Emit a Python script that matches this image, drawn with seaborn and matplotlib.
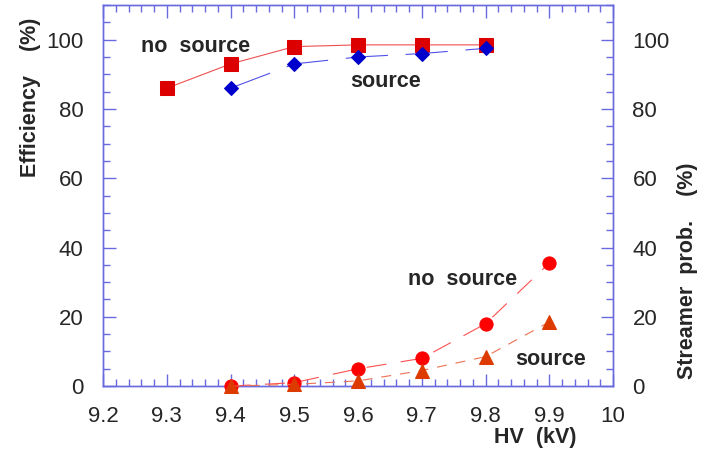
import matplotlib
matplotlib.use("Agg")
import matplotlib.pyplot as plt
from matplotlib.ticker import MultipleLocator
import seaborn as sns
import pandas as pd

# High-voltage scan points (kV)
hv_eff_nosrc = [9.3, 9.4, 9.5, 9.6, 9.7, 9.8]
eff_nosrc = [86.0, 93.0, 98.0, 98.5, 98.5, 98.5]

hv_eff_src = [9.4, 9.5, 9.6, 9.7, 9.8]
eff_src = [86.0, 93.0, 95.0, 96.0, 97.5]

hv_str = [9.4, 9.5, 9.6, 9.7, 9.8, 9.9]
str_nosrc = [0.0, 1.0, 5.0, 8.0, 18.0, 35.5]
str_src = [0.0, 0.5, 1.5, 4.5, 8.5, 18.5]

x_ticks = [9.2, 9.3, 9.4, 9.5, 9.6, 9.7, 9.8, 9.9, 10.0]
x_tick_labels = ["9.2", "9.3", "9.4", "9.5", "9.6", "9.7", "9.8", "9.9", "10"]
y_ticks = [0, 20, 40, 60, 80, 100]

sns.set_theme(style="white")
plt.rcParams["font.family"] = ["Liberation Sans", "DejaVu Sans"]

spine_col = "#6a6ae0"

fig = plt.figure(figsize=(7.01, 4.58), dpi=100)
ax = fig.add_axes([0.147, 0.157, 0.7275, 0.832])
ax2 = ax.twinx()

df_a = pd.DataFrame({"hv": hv_eff_nosrc, "v": eff_nosrc})
df_b = pd.DataFrame({"hv": hv_eff_src, "v": eff_src})
df_c = pd.DataFrame({"hv": hv_str, "v": str_nosrc})
df_d = pd.DataFrame({"hv": hv_str, "v": str_src})

# Efficiency curves (left axis)
sns.lineplot(data=df_a, x="hv", y="v", ax=ax, color="#ee5050", lw=0.8,
             marker="s", markersize=10, markerfacecolor="#dd0000",
             markeredgecolor="#dd0000", clip_on=False, zorder=3)
sns.lineplot(data=df_b, x="hv", y="v", ax=ax, color="#5050e8", lw=0.8,
             linestyle=(0, (38, 16)),
             marker="D", markersize=7.5, markerfacecolor="#0000cc",
             markeredgecolor="#0000cc", clip_on=False, zorder=3)

# Streamer probability curves (right axis)
sns.lineplot(data=df_c, x="hv", y="v", ax=ax2, color="#ff5050", lw=0.8,
             linestyle=(0, (18, 13)),
             marker="o", markersize=9.5, markerfacecolor="#ff0000",
             markeredgecolor="#ff0000", clip_on=False, zorder=3)
sns.lineplot(data=df_d, x="hv", y="v", ax=ax2, color="#ee7050", lw=0.8,
             linestyle=(0, (9, 8)),
             marker="^", markersize=10, markerfacecolor="#dd3a00",
             markeredgecolor="#dd3a00", clip_on=False, zorder=3)

for a in (ax, ax2):
    a.set_xlim(9.2, 10.0)
    a.set_ylim(0, 110)
    a.set_xlabel("")
    a.set_ylabel("")
    for s in a.spines.values():
        s.set_visible(True)
        s.set_color(spine_col)
        s.set_linewidth(1.0)

ax.set_xticks(x_ticks)
ax.set_xticklabels(x_tick_labels)
ax.xaxis.set_minor_locator(MultipleLocator(0.02))
ax.set_yticks(y_ticks)
ax.yaxis.set_minor_locator(MultipleLocator(5))
ax2.set_yticks(y_ticks)
ax2.yaxis.set_minor_locator(MultipleLocator(5))

ax.tick_params(axis="x", which="both", direction="in", top=True, bottom=True,
               color=spine_col, labelsize=16, pad=14)
ax.tick_params(axis="y", which="both", direction="in", left=True, right=False,
               color=spine_col, labelsize=16, pad=14)
ax2.tick_params(axis="y", which="both", direction="in", right=True, left=False,
                color=spine_col, labelsize=16, pad=14)
for a in (ax, ax2):
    a.tick_params(which="major", length=9, width=1.0)
    a.tick_params(which="minor", length=5, width=1.0)

# Axis titles
fig.text(0.043, 0.788, "Efficiency    (%)", rotation=90, ha="center", va="center",
         fontsize=15.5, fontweight="bold")
fig.text(0.981, 0.408, "Streamer  prob.    (%)", rotation=90, ha="center", va="center",
         fontsize=15.5, fontweight="bold")
fig.text(0.764, 0.044, "HV  (kV)", ha="center", va="center",
         fontsize=15.5, fontweight="bold")

# Curve labels
ax.text(9.259, 97.9, "no  source", fontsize=15.5, fontweight="bold", va="center")
ax.text(9.5875, 87.8, "source", fontsize=15.5, fontweight="bold", va="center")
ax2.text(9.678, 30.9, "no  source", fontsize=15.5, fontweight="bold", va="center")
ax2.text(9.847, 7.7, "source", fontsize=15.5, fontweight="bold", va="center")

fig.savefig("out.png", dpi=100)
